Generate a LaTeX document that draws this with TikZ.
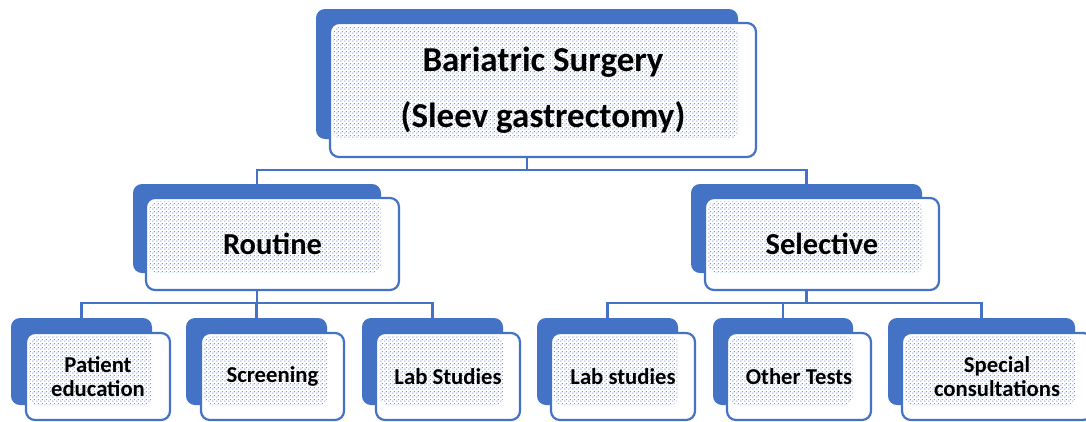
\documentclass[tikz,border=0pt]{standalone}
\usepackage{fontspec}
\setmainfont{Carlito}
\usetikzlibrary{patterns.meta}
\definecolor{smartblue}{HTML}{4472C4}

\tikzdeclarepattern{
  name=officedots,
  type=uncolored,
  bounding box={(0pt,0pt) and (4pt,4pt)},
  tile size={(4pt,4pt)},
  code={
    \fill (0.4pt,0.4pt) rectangle (1.6pt,1.6pt);
    \fill (2.4pt,2.4pt) rectangle (3.6pt,3.6pt);
  }
}

\begin{document}
\begin{tikzpicture}[
  x=1pt, y=-1pt,
  font=\bfseries,
  backbox/.style={fill=smartblue, rounded corners=9pt, inner sep=0pt},
  frontbox/.style={draw=smartblue, line width=2.2pt, fill=white,
    rounded corners=9pt, align=center, inner sep=0pt,
    path picture={\fill[pattern=officedots, pattern color=smartblue!75]
      ([shift={(3,3)}]path picture bounding box.north west)
      rectangle (b-#1.south east);}},
  titlefont/.style={font=\bfseries\fontsize{35}{56}\selectfont},
  midfont/.style={font=\bfseries\fontsize{30.5}{36}\selectfont},
  lowfont/.style={font=\bfseries\fontsize{22.7}{24}\selectfont},
  conn/.style={draw=smartblue, line width=2.2pt}
]
\useasboundingbox[fill=white] (0,0) rectangle (1086,421);

% top level
\node[backbox, minimum width=422pt, minimum height=130pt] (b-top) at (527,74) {};
\node[frontbox=top, titlefont, minimum width=426pt, minimum height=134pt] (top)
  at (543,90) {Bariatric Surgery\\(Sleev gastrectomy)};

% second level
\node[backbox, minimum width=248pt, minimum height=89pt] (b-routine) at (257,228.5) {};
\node[frontbox=routine, midfont, minimum width=253pt, minimum height=92pt] (routine)
  at (272.5,244) {Routine};
\node[backbox, minimum width=231pt, minimum height=89pt] (b-selective) at (806.5,228.5) {};
\node[frontbox=selective, midfont, minimum width=234pt, minimum height=92pt] (selective)
  at (822,244) {Selective};

% third level
\node[backbox, minimum width=141pt, minimum height=87pt] (b-patient) at (81.5,361.5) {};
\node[frontbox=patient, lowfont, minimum width=144pt, minimum height=87pt] (patient)
  at (98,376.5) {Patient\\education};
\node[backbox, minimum width=141pt, minimum height=87pt] (b-screening) at (256.5,361.5) {};
\node[frontbox=screening, lowfont, minimum width=143pt, minimum height=87pt] (screening)
  at (272.5,376.5) {Screening};
\node[backbox, minimum width=141pt, minimum height=87pt] (b-labR) at (432.5,361.5) {};
\node[frontbox=labR, lowfont, minimum width=144pt, minimum height=87pt] (labR)
  at (448,376.5) {Lab Studies};
\node[backbox, minimum width=141pt, minimum height=87pt] (b-labS) at (607.5,361.5) {};
\node[frontbox=labS, lowfont, minimum width=144pt, minimum height=87pt] (labS)
  at (623,376.5) {Lab studies};
\node[backbox, minimum width=140pt, minimum height=87pt] (b-other) at (783,361.5) {};
\node[frontbox=other, lowfont, minimum width=144pt, minimum height=87pt] (other)
  at (799,376.5) {Other Tests};
\node[backbox, minimum width=187pt, minimum height=87pt] (b-special) at (981.5,361.5) {};
\node[frontbox=special, lowfont, minimum width=190pt, minimum height=87pt] (special)
  at (997,376.5) {Special\\consultations};

% connectors
\coordinate (busA) at (0,170);
\coordinate (busB) at (0,303);
\foreach \c in {routine,selective}
  \draw[conn] (b-top.south |- top.south) -- (b-top.south |- busA) -| (b-\c.north);
\foreach \c in {patient,screening,labR}
  \draw[conn] (b-routine.south |- routine.south) -- (b-routine.south |- busB) -| (b-\c.north);
\foreach \c in {labS,other,special}
  \draw[conn] (b-selective.south |- selective.south) -- (b-selective.south |- busB) -| (b-\c.north);
\end{tikzpicture}
\end{document}
